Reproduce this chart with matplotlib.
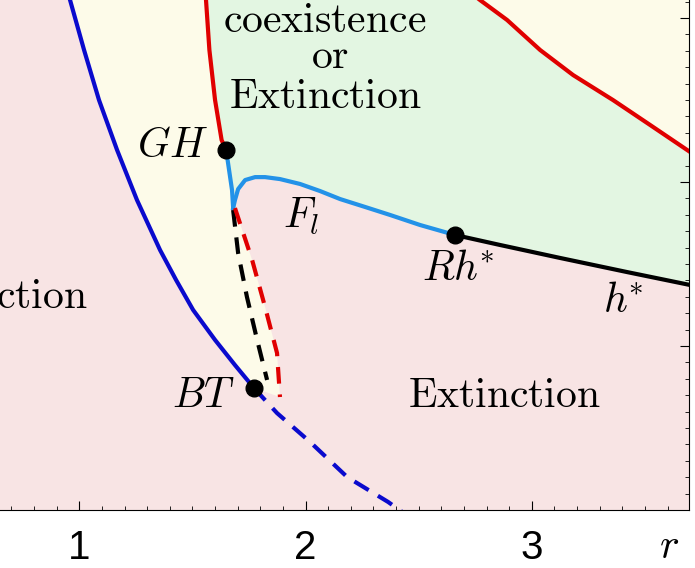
import matplotlib
matplotlib.use('Agg')
import matplotlib.pyplot as plt
import numpy as np

plt.rcParams['mathtext.fontset'] = 'cm'
plt.rcParams['font.family'] = ['Liberation Sans', 'DejaVu Sans']

# curves (r, second parameter)
blue_x = [0.941, 0.959, 1.021, 1.087, 1.167, 1.255, 1.357, 1.428, 1.503, 1.600, 1.688, 1.772]
blue_y = [3.183, 3.110, 2.805, 2.500, 2.195, 1.890, 1.585, 1.402, 1.220, 1.037, 0.884, 0.744]

blue_dash_x = [1.772, 1.874, 2.020, 2.184, 2.365, 2.427]
blue_dash_y = [0.744, 0.591, 0.415, 0.201, 0.049, -0.012]

hopf_x = [1.551, 1.560, 1.575, 1.600, 1.629, 1.649]
hopf_y = [3.183, 3.110, 2.805, 2.500, 2.256, 2.195]

hopf2_x = [2.727, 2.771, 2.891, 3.037, 3.183, 3.359, 3.523, 3.700]
hopf2_y = [3.159, 3.110, 2.988, 2.805, 2.652, 2.500, 2.348, 2.183]

fold_a_x = [1.649, 1.662, 1.675, 1.680]
fold_a_y = [2.195, 2.073, 1.951, 1.841]

fold_b_x = [1.680, 1.688, 1.702, 1.733, 1.777, 1.821, 1.887, 1.976, 2.064, 2.153,
            2.263, 2.374, 2.506, 2.661]
fold_b_y = [1.841, 1.890, 1.957, 2.012, 2.030, 2.030, 2.018, 1.988, 1.945, 1.896,
            1.848, 1.799, 1.738, 1.677]

hom_x = [2.661, 2.860, 3.125, 3.421, 3.700]
hom_y = [1.677, 1.616, 1.537, 1.451, 1.372]

hom_dash_x = [1.680, 1.702, 1.741, 1.786, 1.830]
hom_dash_y = [1.829, 1.567, 1.299, 1.037, 0.793]

red_dash_x = [1.688, 1.764, 1.821, 1.874, 1.887]
red_dash_y = [1.841, 1.524, 1.238, 0.957, 0.689]

points = {'GH': (1.649, 2.195), 'Rh': (2.661, 1.677), 'BT': (1.772, 0.744)}

pink = '#F8E4E4'
yellow = '#FDFBE9'
green = '#E3F6E2'

fig = plt.figure(figsize=(6.95, 5.68), dpi=100)
ax = fig.add_axes([0, 58 / 568, 689 / 695, 510 / 568])
ax.set_facecolor(pink)
ax.set_xlim(0.6494, 3.695)
ax.set_ylim(0, 3.11)

top = 3.3
# yellow band between transcritical and Hopf curves
yx = blue_x + red_dash_x[::-1] + fold_a_x[::-1] + hopf_x[::-1]
yy = blue_y + red_dash_y[::-1] + fold_a_y[::-1] + hopf_y[::-1]
ax.fill(yx + [hopf_x[0], blue_x[0]], yy + [top, top], color=yellow, lw=0)

# green region
gx = hopf_x + fold_a_x + fold_b_x + hom_x + [3.8, 3.8] + hopf2_x[::-1]
gy = hopf_y + fold_a_y + fold_b_y + hom_y + [hom_y[-1], hopf2_y[-1]] + hopf2_y[::-1]
ax.fill(gx + [hopf2_x[0], hopf_x[0]], gy + [top, top], color=green, lw=0)

# upper right yellow
ax.fill(hopf2_x + [3.8, 3.8, hopf2_x[0]], hopf2_y + [hopf2_y[-1], top, top],
        color=yellow, lw=0)

lw = 3.0
dash = (4, 2.6)
ax.plot(blue_x, blue_y, color='#0A0ACD', lw=lw)
ax.plot(blue_dash_x, blue_dash_y, color='#0A0ACD', lw=lw, dashes=dash)
ax.plot(hopf_x, hopf_y, color='#E00000', lw=lw)
ax.plot(hopf2_x, hopf2_y, color='#E00000', lw=lw)
ax.plot(fold_a_x, fold_a_y, color='#2392E8', lw=lw)
ax.plot(fold_b_x, fold_b_y, color='#2392E8', lw=lw)
ax.plot(hom_x, hom_y, color='black', lw=lw)
ax.plot(hom_dash_x, hom_dash_y, color='black', lw=lw, dashes=dash)
ax.plot(red_dash_x, red_dash_y, color='#E00000', lw=lw, dashes=dash)

for px, py in points.values():
    ax.plot(px, py, 'o', color='black', ms=12, zorder=5)

fs = 30
ax.text(2.086, 2.915, r'$\mathrm{coexistence}$', fontsize=fs, ha='center', va='baseline')
ax.text(2.108, 2.695, r'$\mathrm{or}$', fontsize=fs, ha='center', va='baseline')
ax.text(2.086, 2.451, r'$\mathrm{Extinction}$', fontsize=fs, ha='center', va='baseline')
ax.text(2.878, 0.628, r'$\mathrm{Extinction}$', fontsize=fs, ha='center', va='baseline')
ax.text(1.038, 1.232, r'$\mathrm{Extinction}$', fontsize=fs, ha='right', va='baseline')
ax.text(1.569, 2.152, r'$GH$', fontsize=fs, ha='right', va='baseline')
ax.text(1.901, 1.720, r'$F_l$', fontsize=fs, ha='left', va='baseline')
ax.text(2.675, 1.402, r'$Rh^{\!\!*}$', fontsize=fs, ha='center', va='baseline')
ax.text(3.315, 1.207, r'$h^{\!\!*}$', fontsize=fs, ha='left', va='baseline')
ax.text(1.688, 0.627, r'$BT$', fontsize=fs, ha='right', va='baseline')
ax.text(3.605, -0.29, r'$r$', fontsize=fs, ha='center', va='baseline', clip_on=False)

ax.spines['left'].set_visible(False)
ax.spines['top'].set_visible(False)
ax.set_xticks([1, 2, 3])
ax.set_xticks(np.arange(0.7, 3.65, 0.1), minor=True)
ax.set_yticks([1, 2, 3])
ax.set_yticks(np.arange(0.1, 3.11, 0.1), minor=True)
ax.yaxis.tick_right()
ax.tick_params(axis='y', which='both', labelright=False, direction='in')
ax.tick_params(axis='x', which='both', direction='in', labelsize=29, pad=14)
ax.tick_params(which='major', length=6.5, width=0.8)
ax.tick_params(which='minor', length=3, width=0.6)

fig.savefig('out.png', dpi=100)
